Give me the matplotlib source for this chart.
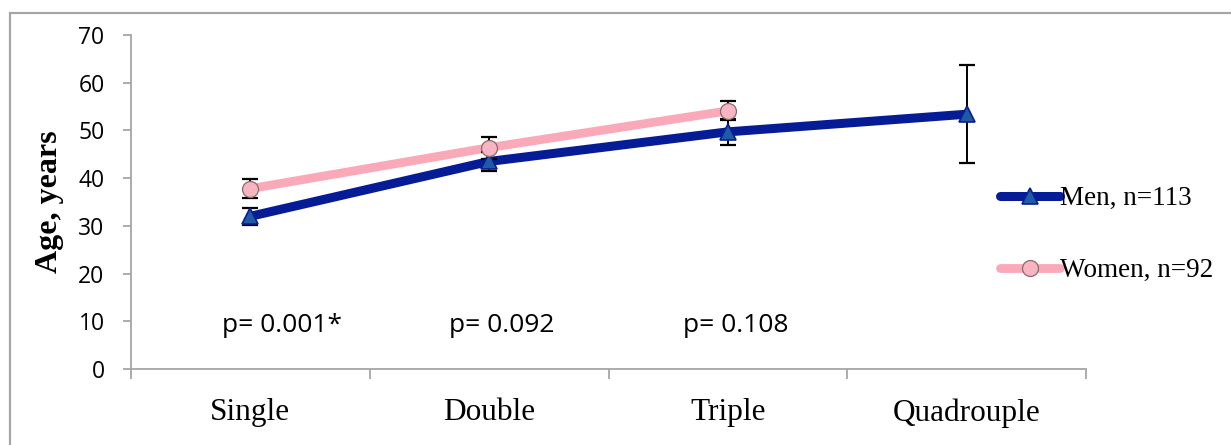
import matplotlib
matplotlib.use("Agg")
import matplotlib.pyplot as plt
from matplotlib.patches import Rectangle

# ── Data ─────────────────────────────────────────────────────────────────────
categories = ["Single", "Double", "Triple", "Quadrouple"]
men_age    = [32.0, 43.5, 49.7, 53.4]
men_err    = [1.8, 2.0, 2.7, 10.3]
women_age  = [37.8, 46.4, 54.1]
women_err  = [2.0, 2.3, 2.0]
p_labels   = ["p= 0.001*", "p= 0.092", "p= 0.108"]
y_ticks    = [0, 10, 20, 30, 40, 50, 60, 70]

MEN_LINE   = "#061c96"
MEN_FACE   = "#1f5aa6"
WOMEN_LINE = "#f9a9b8"
WOMEN_FACE = "#f7b5c2"
AXIS_GRAY  = "#a6a6a6"

fig = plt.figure(figsize=(12.31, 4.45), dpi=100)
ax = fig.add_axes([131 / 1231, 1 - 369 / 445, (1086 - 131) / 1231, (369 - 35) / 445])

# outer frame of the original chart object
fig.patches.append(Rectangle((10 / 1231, -0.1), 1.2, (445 - 13) / 445 + 0.1,
                             transform=fig.transFigure, fill=False,
                             edgecolor=AXIS_GRAY, lw=1.6, zorder=0))

xm = list(range(len(men_age)))
xw = list(range(len(women_age)))

ax.plot(xm, men_age, "-", color=MEN_LINE, lw=6.5, solid_capstyle="round",
        zorder=2)
ax.plot(xw, women_age, "-", color=WOMEN_LINE, lw=6.3, solid_capstyle="round",
        zorder=3)
ax.errorbar(xm, men_age, yerr=men_err, fmt="none", ecolor="black",
            elinewidth=1.4, capsize=5.8, capthick=1.6, zorder=4)
ax.errorbar(xw, women_age, yerr=women_err, fmt="none", ecolor="black",
            elinewidth=1.4, capsize=5.8, capthick=1.6, zorder=4)
ax.plot(xm, men_age, "^", ms=11, mfc=MEN_FACE, mec="#0a1f8f", mew=1.2,
        zorder=5)
ax.plot(xw, women_age, "o", ms=11.5, mfc=WOMEN_FACE, mec="#8a6a70", mew=0.9,
        zorder=6)

# legend handles
h_men, = ax.plot([], [], "-^", color=MEN_LINE, lw=6.5, ms=11, mfc=MEN_FACE,
                 mec="#0a1f8f", mew=1.2, solid_capstyle="round")
h_women, = ax.plot([], [], "-o", color=WOMEN_LINE, lw=6.3, ms=11.5,
                   mfc=WOMEN_FACE, mec="#8a6a70", mew=0.9,
                   solid_capstyle="round")
leg = fig.legend([h_men, h_women], ["Men, n=113", "Women, n=92"],
                 loc="upper left", bbox_to_anchor=(1000 / 1231, 1 - 186 / 445),
                 frameon=False, numpoints=1, handlelength=2.2,
                 handletextpad=0.0, labelspacing=1.75,
                 prop={"family": "Liberation Serif", "size": 19.5},
                 borderaxespad=0, borderpad=0)

# p-values
p_offsets = [-0.12, -0.17, -0.19]
for i, (lab, off) in enumerate(zip(p_labels, p_offsets)):
    ax.text(i + off, 9.2, lab, ha="left", va="center",
            fontsize=19, family="Open Sans")

ax.set_xlim(-0.5, len(categories) - 0.5)
ax.set_ylim(0, 70)
ax.set_yticks(y_ticks)
ax.set_yticklabels([str(t) for t in y_ticks], family="Open Sans", fontsize=16.5)
ax.set_xticks([i + 0.5 for i in range(-1, len(categories))])
ax.set_xticklabels([])
ax.set_xticks(range(len(categories)), minor=True)
ax.set_xticklabels(categories, minor=True, family="Liberation Serif",
                   fontsize=22.5)
ax.tick_params(axis="x", which="minor", length=0, pad=21)
ax.tick_params(axis="x", which="major", length=7, width=1.3, color=AXIS_GRAY)
ax.tick_params(axis="y", length=6, width=1.3, color=AXIS_GRAY, pad=13)

for s in ("top", "right"):
    ax.spines[s].set_visible(False)
for s in ("left", "bottom"):
    ax.spines[s].set_color(AXIS_GRAY)
    ax.spines[s].set_linewidth(1.3)

ax.set_ylabel("Age, years", family="Liberation Serif", fontweight="bold",
              fontsize=23)
ax.yaxis.set_label_coords(-0.070, 0.5)

fig.savefig("out.png", dpi=100)
